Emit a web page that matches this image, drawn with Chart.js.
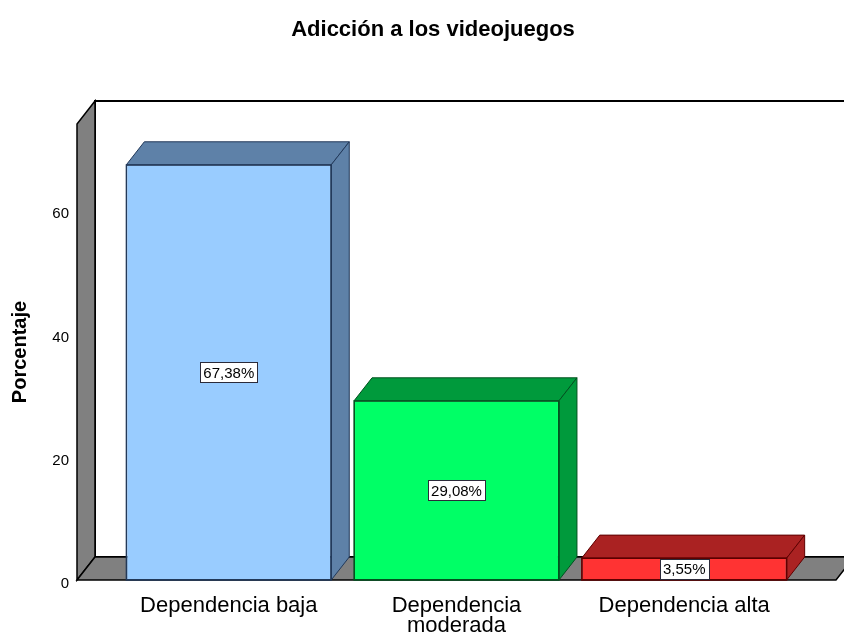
<!DOCTYPE html>
<html>
<head>
<meta charset="utf-8">
<script src="https://cdn.jsdelivr.net/npm/chart.js@4.4.1/dist/chart.umd.min.js"></script>
<style>
  html, body { margin: 0; padding: 0; background: #ffffff; }
  canvas { display: block; }
</style>
</head>
<body>
<canvas id="chart" width="844" height="634"></canvas>
<script>
// ---- data ----
const chartTitle = 'Adicción a los videojuegos';
const yAxisTitle = 'Porcentaje';
const categories = ['Dependencia baja', 'Dependencia moderada', 'Dependencia alta'];
const tickLabels = [['Dependencia baja'], ['Dependencia', 'moderada'], ['Dependencia alta']];
const percentages = [67.38, 29.08, 3.55];
const yTickValues = [0, 20, 40, 60];
const yMax = 74;

// ---- style ----
const FONT = '"Liberation Sans", Arial, Helvetica, sans-serif';
const frontColors = ['#99CCFF', '#00FF66', '#FF3333'];
const shadeColors = ['#5E81A8', '#009A3C', '#AA2222'];
const edgeColors = ['#22395A', '#00521F', '#5E0000'];
const WALL_GRAY = '#808080';
const DEPTH_X = 18;
const DEPTH_Y = -23;

const formatPct = v => v.toFixed(2).replace('.', ',') + '%';

function polygon(ctx, pts, fill, stroke, lw) {
  ctx.beginPath();
  ctx.moveTo(pts[0][0], pts[0][1]);
  for (let i = 1; i < pts.length; i++) ctx.lineTo(pts[i][0], pts[i][1]);
  ctx.closePath();
  if (fill) {
    ctx.fillStyle = fill;
    ctx.fill();
  }
  ctx.lineWidth = lw;
  ctx.strokeStyle = stroke;
  ctx.stroke();
}

// Walls, floor, bar depth faces and the value boxes
const box3d = {
  id: 'box3d',
  beforeDatasetsDraw(chart) {
    const { ctx, chartArea: { left, right, top, bottom } } = chart;
    ctx.save();
    ctx.lineJoin = 'miter';
    // back wall
    polygon(ctx, [
      [left + DEPTH_X, top + DEPTH_Y], [right + DEPTH_X, top + DEPTH_Y],
      [right + DEPTH_X, bottom + DEPTH_Y], [left + DEPTH_X, bottom + DEPTH_Y]
    ], '#ffffff', '#000000', 2);
    // left wall
    polygon(ctx, [
      [left, bottom], [left, top], [left + DEPTH_X, top + DEPTH_Y], [left + DEPTH_X, bottom + DEPTH_Y]
    ], WALL_GRAY, '#000000', 1.5);
    // floor
    polygon(ctx, [
      [left, bottom], [right, bottom], [right + DEPTH_X, bottom + DEPTH_Y], [left + DEPTH_X, bottom + DEPTH_Y]
    ], WALL_GRAY, '#000000', 1.5);
    ctx.restore();
  },
  afterDatasetsDraw(chart) {
    const { ctx } = chart;
    const yScale = chart.scales.y;
    const meta = chart.getDatasetMeta(0);
    ctx.save();
    ctx.lineJoin = 'miter';
    meta.data.forEach((bar, i) => {
      const { x, y, width, base } = bar.getProps(['x', 'y', 'width', 'base'], true);
      const x0 = x - width / 2, x1 = x + width / 2;
      // top face
      polygon(ctx, [
        [x0, y], [x1, y], [x1 + DEPTH_X, y + DEPTH_Y], [x0 + DEPTH_X, y + DEPTH_Y]
      ], shadeColors[i], edgeColors[i], 1);
      // right side face
      polygon(ctx, [
        [x1, y], [x1 + DEPTH_X, y + DEPTH_Y], [x1 + DEPTH_X, base + DEPTH_Y], [x1, base]
      ], shadeColors[i], edgeColors[i], 1);
      // crisp outline of the front face
      polygon(ctx, [[x0, y], [x1, y], [x1, base], [x0, base]], null, edgeColors[i], 1.3);
    });
    // value boxes in the middle of each bar
    ctx.font = '15px ' + FONT;
    ctx.textAlign = 'center';
    ctx.textBaseline = 'middle';
    meta.data.forEach((bar, i) => {
      const v = percentages[i];
      const text = formatPct(v);
      const cx = bar.x;
      const cy = yScale.getPixelForValue(v / 2);
      const w = Math.round(ctx.measureText(text).width + 6);
      const h = 20;
      const bx = Math.round(cx - w / 2) + 0.5;
      const by = Math.round(cy - h / 2) + 0.5;
      ctx.fillStyle = '#ffffff';
      ctx.fillRect(bx, by, w, h);
      ctx.lineWidth = 1;
      ctx.strokeStyle = '#2B2B3A';
      ctx.strokeRect(bx, by, w, h);
      ctx.fillStyle = '#000000';
      ctx.fillText(text, cx, cy + 1);
    });
    ctx.restore();
  }
};

new Chart(document.getElementById('chart'), {
  type: 'bar',
  data: {
    datasets: [{
      label: yAxisTitle,
      data: percentages.map((v, i) => ({ x: i, y: v })),
      backgroundColor: frontColors,
      borderColor: edgeColors,
      borderWidth: 1,
      borderSkipped: false,
      categoryPercentage: 0.9,
      barPercentage: 1
    }]
  },
  options: {
    responsive: false,
    animation: false,
    events: [],
    layout: { padding: { left: 30, right: 8, top: 0, bottom: 0 } },
    plugins: {
      legend: { display: false },
      tooltip: { enabled: false },
      title: {
        display: true,
        text: chartTitle,
        color: '#000000',
        font: { family: FONT, size: 22, weight: 'bold' },
        padding: { top: 17, bottom: 80.6 }
      }
    },
    scales: {
      x: {
        type: 'linear',
        offset: false,
        min: -2 / 3,
        max: categories.length - 1 + 2 / 3,
        grid: { display: false, drawTicks: false },
        border: { display: false },
        afterBuildTicks: axis => { axis.ticks = categories.map((_, i) => ({ value: i })); },
        afterFit: axis => { axis.height = 54; },
        ticks: {
          autoSkip: false,
          maxRotation: 0,
          padding: 16,
          color: '#000000',
          font: { family: FONT, size: 22, lineHeight: 0.92 },
          callback: v => tickLabels[v] ?? ''
        }
      },
      y: {
        min: 0,
        max: yMax,
        grid: { display: false, drawTicks: false },
        border: { display: false },
        afterBuildTicks: axis => { axis.ticks = yTickValues.map(v => ({ value: v })); },
        afterFit: axis => { axis.width = 47; },
        ticks: {
          padding: 8,
          labelOffset: 4,
          color: '#000000',
          font: { family: FONT, size: 15 }
        },
        title: {
          display: true,
          text: yAxisTitle,
          color: '#000000',
          font: { family: FONT, size: 20, weight: 'bold' },
          padding: { top: -22, bottom: 0 }
        }
      }
    }
  },
  plugins: [box3d]
});
</script>
</body>
</html>
